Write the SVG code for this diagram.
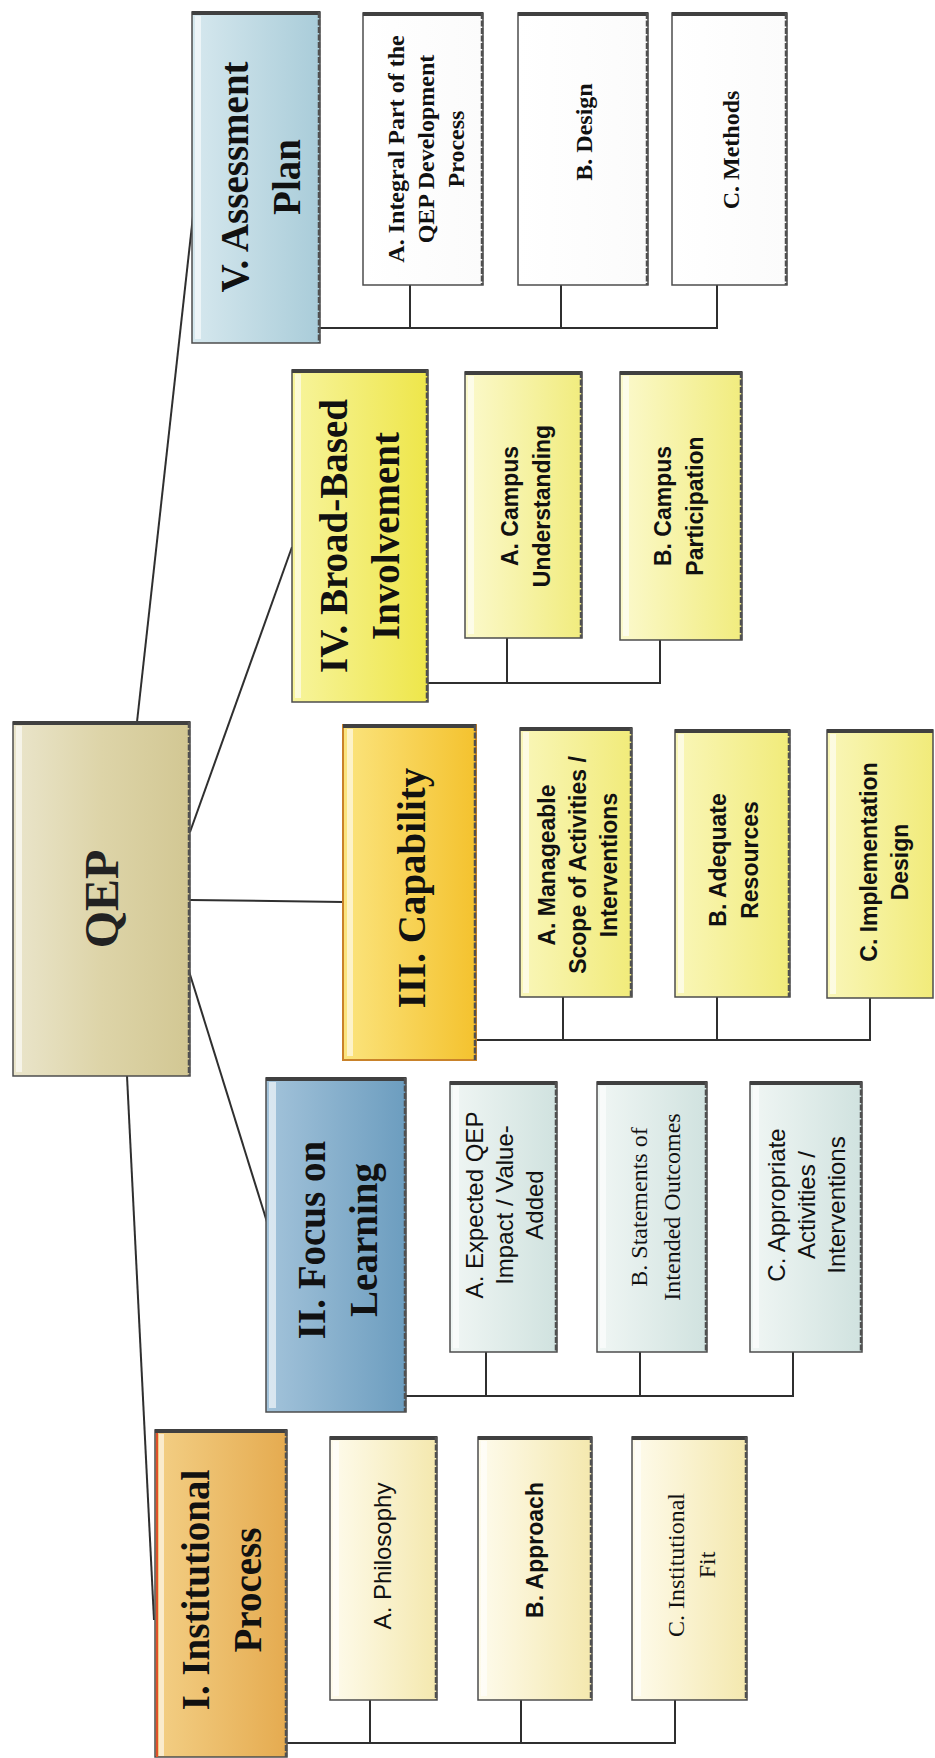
<svg xmlns="http://www.w3.org/2000/svg" width="935" height="1758" viewBox="0 0 935 1758">
<defs>
<linearGradient id="gQ" x1="0" y1="0" x2="1" y2="0"><stop offset="0" stop-color="#eae5cb"/><stop offset="0.5" stop-color="#ddd4a8"/><stop offset="1" stop-color="#d2c793"/></linearGradient>
<linearGradient id="gV" x1="0" y1="0" x2="1" y2="0"><stop offset="0" stop-color="#d6e8ee"/><stop offset="1" stop-color="#a9ccd9"/></linearGradient>
<linearGradient id="gVc" x1="0" y1="0" x2="1" y2="0"><stop offset="0" stop-color="#ffffff"/><stop offset="1" stop-color="#fbfbfb"/></linearGradient>
<linearGradient id="gIV" x1="0" y1="0" x2="1" y2="0"><stop offset="0" stop-color="#f7f49c"/><stop offset="1" stop-color="#eee64a"/></linearGradient>
<linearGradient id="gIVc" x1="0" y1="0" x2="1" y2="0"><stop offset="0" stop-color="#fbf9cc"/><stop offset="1" stop-color="#f1ec7e"/></linearGradient>
<linearGradient id="gIII" x1="0" y1="0" x2="1" y2="0"><stop offset="0" stop-color="#fbe47e"/><stop offset="1" stop-color="#f4c22e"/></linearGradient>
<linearGradient id="gIIIc" x1="0" y1="0" x2="1" y2="0"><stop offset="0" stop-color="#f9f6b8"/><stop offset="1" stop-color="#f1eb7a"/></linearGradient>
<linearGradient id="gII" x1="0" y1="0" x2="1" y2="0"><stop offset="0" stop-color="#a3c3da"/><stop offset="1" stop-color="#6c9dbf"/></linearGradient>
<linearGradient id="gIIc" x1="0" y1="0" x2="1" y2="0"><stop offset="0" stop-color="#f0f6f4"/><stop offset="1" stop-color="#d0e2df"/></linearGradient>
<linearGradient id="gI" x1="0" y1="0" x2="1" y2="0"><stop offset="0" stop-color="#f3cf85"/><stop offset="1" stop-color="#e5ab50"/></linearGradient>
<linearGradient id="gIc" x1="0" y1="0" x2="1" y2="0"><stop offset="0" stop-color="#fefbec"/><stop offset="1" stop-color="#f4e8ae"/></linearGradient>
</defs>
<style>
.bx{stroke:#4d4d4d;stroke-width:1.5}
.tp{stroke:#404040;stroke-width:4}
.rt{stroke:#505050;stroke-width:2.5;stroke-dasharray:6 1.5}
.hl{fill:#ffffff;opacity:0.6}
.title{font-family:"Liberation Serif",serif;font-weight:bold;font-size:39px;fill:#111}
.qep{font-family:"Liberation Serif",serif;font-weight:bold;font-size:48px;fill:#222}
.sb{font-family:"Liberation Serif",serif;font-weight:bold;font-size:24px;fill:#111}
.sr{font-family:"Liberation Serif",serif;font-size:24px;fill:#111}
.nb{font-family:"Liberation Sans",Arial,sans-serif;font-weight:bold;font-size:23px;fill:#111}
.nr{font-family:"Liberation Sans",Arial,sans-serif;font-size:24px;fill:#111}
</style>
<rect width="935" height="1758" fill="#ffffff"/>

<g id="connectors" stroke="#2f2f2f" stroke-width="2" fill="none">
<path d="M137,722 L194,207"/>
<path d="M190,832 L292,547"/>
<path d="M190,900 L343,902"/>
<path d="M188,968 L267,1222"/>
<path d="M127,1076 L154,1620"/>
<path d="M320,328 H717 V285 M410,328 V285 M561,328 V285"/>
<path d="M428,683 H660 V640 M507,683 V638"/>
<path d="M476,1040 H870 V998 M563,1040 V997 M717,1040 V997"/>
<path d="M406,1396 H793 V1352 M486,1396 V1352 M640,1396 V1352"/>
<path d="M287,1743 H675 V1700 M370,1743 V1700 M521,1743 V1700"/>
</g>

<g id="node-qep">
<rect class="bx" x="13" y="722" width="177" height="354" fill="url(#gQ)"/>
<rect class="hl" x="16" y="726" width="6" height="346"/>
<line class="tp" x1="13" y1="723" x2="190" y2="723"/>
<line class="rt" x1="189" y1="722" x2="189" y2="1076"/>
<text class="qep" transform="translate(101,899) rotate(-90)" text-anchor="middle" y="17">QEP</text>
</g>

<g id="node-v">
<rect class="bx" x="192" y="12" width="128" height="331" fill="url(#gV)"/>
<rect class="hl" x="195" y="16" width="6" height="323"/>
<line class="tp" x1="192" y1="13" x2="320" y2="13"/>
<line class="rt" x1="319" y1="12" x2="319" y2="343"/>
<text class="title" transform="translate(260,177) rotate(-90)" text-anchor="middle"><tspan x="0" y="-12">V. Assessment</tspan><tspan x="0" dy="52">Plan</tspan></text>
</g>
<g id="node-v-a">
<rect class="bx" x="363" y="13" width="120" height="272" fill="url(#gVc)"/>
<line class="tp" x1="363" y1="14" x2="483" y2="14"/>
<line class="rt" x1="482" y1="13" x2="482" y2="285"/>
<text class="sb" transform="translate(426,149) rotate(-90)" text-anchor="middle"><tspan x="0" y="-22">A. Integral Part of the</tspan><tspan x="0" dy="30">QEP Development</tspan><tspan x="0" dy="30">Process</tspan></text>
</g>
<g id="node-v-b">
<rect class="bx" x="518" y="13" width="130" height="272" fill="url(#gVc)"/>
<line class="tp" x1="518" y1="14" x2="648" y2="14"/>
<line class="rt" x1="647" y1="13" x2="647" y2="285"/>
<text class="sb" transform="translate(583,132) rotate(-90)" text-anchor="middle" y="9" font-size="25">B. Design</text>
</g>
<g id="node-v-c">
<rect class="bx" x="672" y="13" width="115" height="272" fill="url(#gVc)"/>
<line class="tp" x1="672" y1="14" x2="787" y2="14"/>
<line class="rt" x1="786" y1="13" x2="786" y2="285"/>
<text class="sb" transform="translate(730,150) rotate(-90)" text-anchor="middle" y="9" font-size="25">C. Methods</text>
</g>

<g id="node-iv">
<rect class="bx" x="292" y="370" width="136" height="332" fill="url(#gIV)"/>
<rect class="hl" x="295" y="374" width="6" height="324"/>
<line class="tp" x1="292" y1="371" x2="428" y2="371"/>
<line class="rt" x1="427" y1="370" x2="427" y2="702"/>
<text class="title" transform="translate(359,536) rotate(-90)" text-anchor="middle"><tspan x="0" y="-12">IV. Broad-Based</tspan><tspan x="0" dy="52">Involvement</tspan></text>
</g>
<g id="node-iv-a">
<rect class="bx" x="465" y="372" width="117" height="266" fill="url(#gIVc)"/>
<rect class="hl" x="468" y="376" width="6" height="258"/>
<line class="tp" x1="465" y1="373" x2="582" y2="373"/>
<line class="rt" x1="581" y1="372" x2="581" y2="638"/>
<text class="nb" transform="translate(525,506) rotate(-90)" text-anchor="middle" font-size="24"><tspan x="0" y="-7">A. Campus</tspan><tspan x="0" dy="32">Understanding</tspan></text>
</g>
<g id="node-iv-b">
<rect class="bx" x="620" y="372" width="122" height="268" fill="url(#gIVc)"/>
<rect class="hl" x="623" y="376" width="6" height="260"/>
<line class="tp" x1="620" y1="373" x2="742" y2="373"/>
<line class="rt" x1="741" y1="372" x2="741" y2="640"/>
<text class="nb" transform="translate(678,506) rotate(-90)" text-anchor="middle" font-size="24"><tspan x="0" y="-7">B. Campus</tspan><tspan x="0" dy="32">Participation</tspan></text>
</g>

<g id="node-iii">
<rect x="343" y="725" width="133" height="335" fill="url(#gIII)" stroke="#c9822a" stroke-width="2"/>
<rect class="hl" x="347" y="729" width="6" height="327" opacity="0.45"/>
<line class="tp" x1="343" y1="726" x2="476" y2="726"/>
<line class="rt" x1="475" y1="725" x2="475" y2="1060"/>
<text class="title" transform="translate(411,888) rotate(-90)" text-anchor="middle" y="14" font-size="41">III. Capability</text>
</g>
<g id="node-iii-a">
<rect class="bx" x="520" y="728" width="112" height="269" fill="url(#gIIIc)"/>
<rect class="hl" x="523" y="732" width="6" height="261"/>
<line class="tp" x1="520" y1="729" x2="632" y2="729"/>
<line class="rt" x1="631" y1="728" x2="631" y2="997"/>
<text class="nb" transform="translate(578,865) rotate(-90)" text-anchor="middle" font-size="22"><tspan x="0" y="-23">A. Manageable</tspan><tspan x="0" dy="31">Scope of Activities /</tspan><tspan x="0" dy="31">Interventions</tspan></text>
</g>
<g id="node-iii-b">
<rect class="bx" x="675" y="730" width="115" height="267" fill="url(#gIIIc)"/>
<rect class="hl" x="678" y="734" width="6" height="259"/>
<line class="tp" x1="675" y1="731" x2="790" y2="731"/>
<line class="rt" x1="789" y1="730" x2="789" y2="997"/>
<text class="nb" transform="translate(733,860) rotate(-90)" text-anchor="middle" font-size="25"><tspan x="0" y="-7">B. Adequate</tspan><tspan x="0" dy="32">Resources</tspan></text>
</g>
<g id="node-iii-c">
<rect class="bx" x="827" y="730" width="106" height="268" fill="url(#gIIIc)"/>
<rect class="hl" x="830" y="734" width="6" height="260"/>
<line class="tp" x1="827" y1="731" x2="933" y2="731"/>
<text class="nb" transform="translate(884,862) rotate(-90)" text-anchor="middle"><tspan x="0" y="-7">C. Implementation</tspan><tspan x="0" dy="31">Design</tspan></text>
</g>

<g id="node-ii">
<rect class="bx" x="266" y="1078" width="140" height="334" fill="url(#gII)"/>
<rect class="hl" x="269" y="1082" width="7" height="326" opacity="0.8"/>
<line class="tp" x1="266" y1="1079" x2="406" y2="1079"/>
<line class="rt" x1="405" y1="1078" x2="405" y2="1412"/>
<text class="title" transform="translate(337,1240) rotate(-90)" text-anchor="middle"><tspan x="0" y="-12">II. Focus on</tspan><tspan x="0" dy="52">Learning</tspan></text>
</g>
<g id="node-ii-a">
<rect class="bx" x="450" y="1082" width="107" height="270" fill="url(#gIIc)"/>
<rect class="hl" x="453" y="1086" width="6" height="262"/>
<line class="tp" x1="450" y1="1083" x2="557" y2="1083"/>
<line class="rt" x1="556" y1="1082" x2="556" y2="1352"/>
<text class="nr" transform="translate(505,1205) rotate(-90)" text-anchor="middle"><tspan x="0" y="-22">A. Expected QEP</tspan><tspan x="0" dy="30">Impact / Value-</tspan><tspan x="0" dy="30">Added</tspan></text>
</g>
<g id="node-ii-b">
<rect class="bx" x="597" y="1082" width="110" height="270" fill="url(#gIIc)"/>
<rect class="hl" x="600" y="1086" width="6" height="262"/>
<line class="tp" x1="597" y1="1083" x2="707" y2="1083"/>
<line class="rt" x1="706" y1="1082" x2="706" y2="1352"/>
<text class="sr" transform="translate(654,1207) rotate(-90)" text-anchor="middle" font-size="27"><tspan x="0" y="-7">B. Statements of</tspan><tspan x="0" dy="33">Intended Outcomes</tspan></text>
</g>
<g id="node-ii-c">
<rect class="bx" x="750" y="1082" width="112" height="270" fill="url(#gIIc)"/>
<rect class="hl" x="753" y="1086" width="6" height="262"/>
<line class="tp" x1="750" y1="1083" x2="862" y2="1083"/>
<line class="rt" x1="861" y1="1082" x2="861" y2="1352"/>
<text class="nr" transform="translate(807,1205) rotate(-90)" text-anchor="middle"><tspan x="0" y="-22">C. Appropriate</tspan><tspan x="0" dy="30">Activities /</tspan><tspan x="0" dy="30">Interventions</tspan></text>
</g>

<g id="node-i">
<rect x="155" y="1430" width="132" height="327" fill="url(#gI)" stroke="#4d4d4d" stroke-width="1.5"/>
<line x1="157" y1="1433" x2="157" y2="1757" stroke="#e0502a" stroke-width="2"/>
<rect class="hl" x="159" y="1434" width="5" height="322" opacity="0.5"/>
<line class="tp" x1="155" y1="1431" x2="287" y2="1431"/>
<line class="rt" x1="286" y1="1430" x2="286" y2="1757"/>
<text class="title" transform="translate(221,1590) rotate(-90)" text-anchor="middle"><tspan x="0" y="-12">I. Institutional</tspan><tspan x="0" dy="52">Process</tspan></text>
</g>
<g id="node-i-a">
<rect class="bx" x="330" y="1437" width="107" height="263" fill="url(#gIc)"/>
<rect class="hl" x="333" y="1441" width="6" height="255"/>
<line class="tp" x1="330" y1="1438" x2="437" y2="1438"/>
<line class="rt" x1="436" y1="1437" x2="436" y2="1700"/>
<text class="nr" transform="translate(383,1556) rotate(-90)" text-anchor="middle" y="8">A. Philosophy</text>
</g>
<g id="node-i-b">
<rect class="bx" x="478" y="1437" width="114" height="263" fill="url(#gIc)"/>
<rect class="hl" x="481" y="1441" width="6" height="255"/>
<line class="tp" x1="478" y1="1438" x2="592" y2="1438"/>
<line class="rt" x1="591" y1="1437" x2="591" y2="1700"/>
<text class="nb" transform="translate(535,1550) rotate(-90)" text-anchor="middle" y="8" font-size="24">B. Approach</text>
</g>
<g id="node-i-c">
<rect class="bx" x="632" y="1437" width="115" height="263" fill="url(#gIc)"/>
<rect class="hl" x="635" y="1441" width="6" height="255"/>
<line class="tp" x1="632" y1="1438" x2="747" y2="1438"/>
<line class="rt" x1="746" y1="1437" x2="746" y2="1700"/>
<text class="sr" transform="translate(691,1565) rotate(-90)" text-anchor="middle" font-size="25"><tspan x="0" y="-7">C. Institutional</tspan><tspan x="0" dy="31">Fit</tspan></text>
</g>
</svg>
